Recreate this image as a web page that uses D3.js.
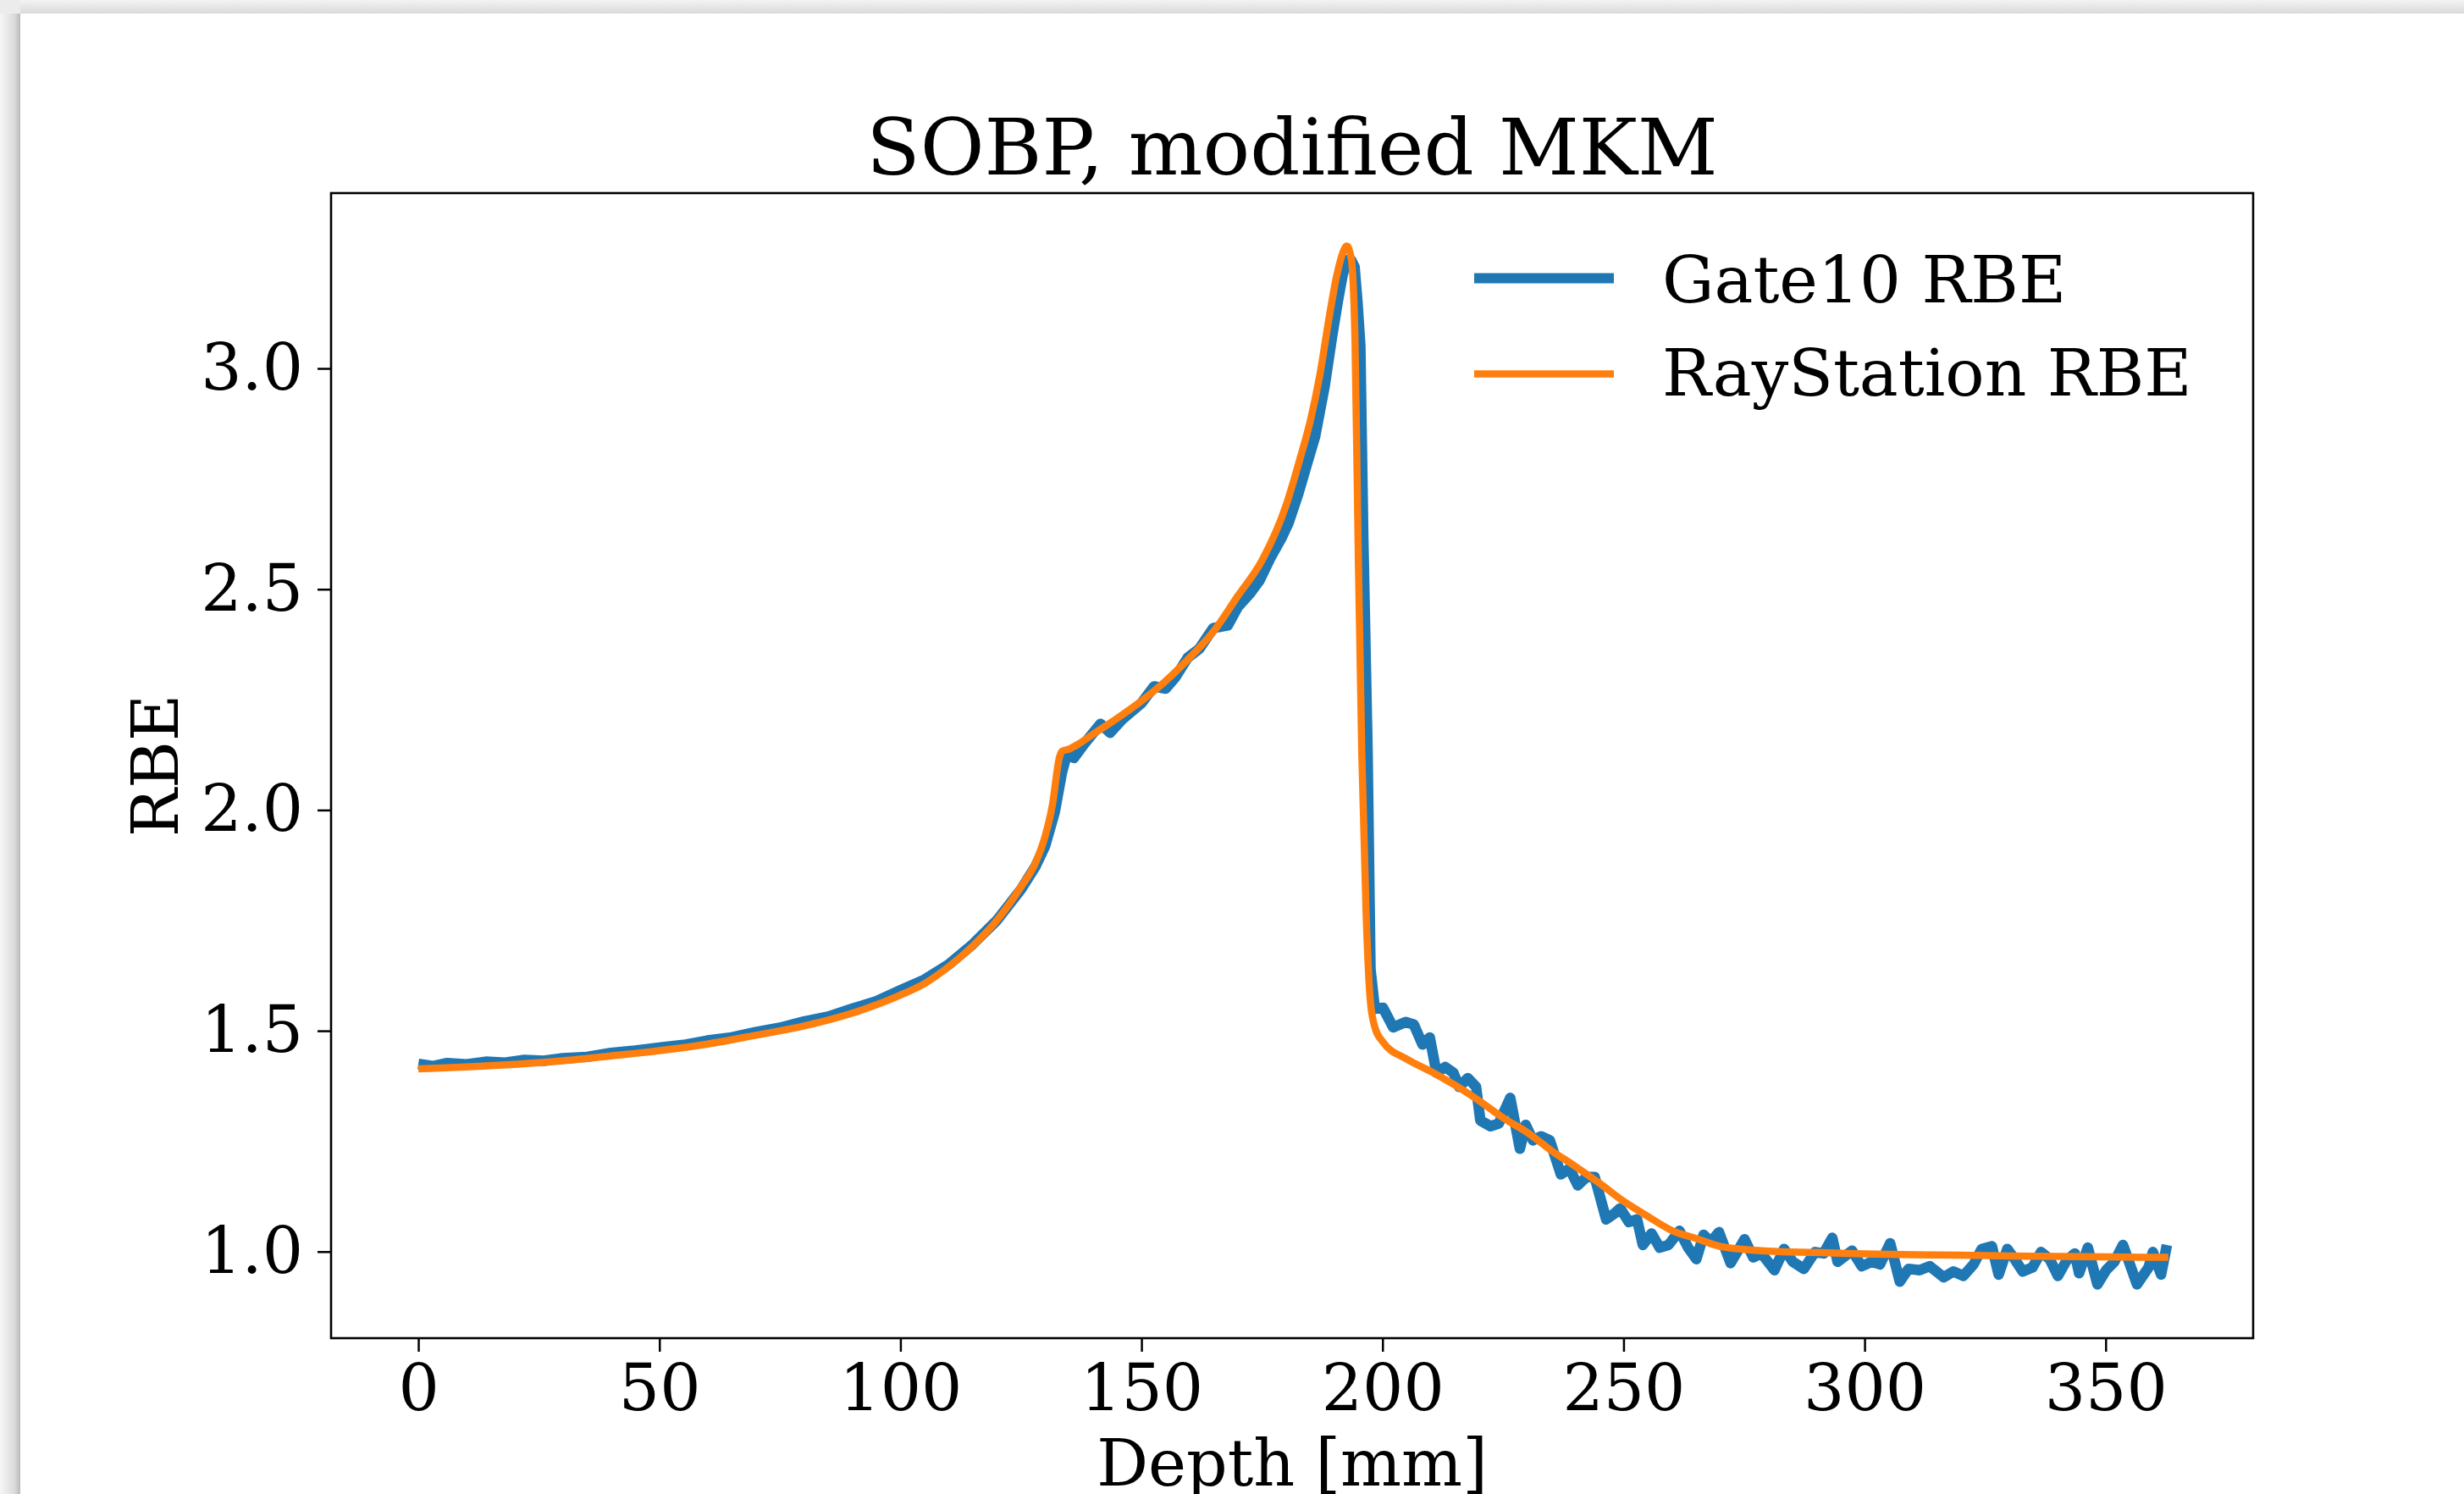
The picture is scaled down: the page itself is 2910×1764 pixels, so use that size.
<!DOCTYPE html>
<html>
<head>
<meta charset="utf-8">
<script src="https://cdn.jsdelivr.net/npm/d3@7"></script>
<style>
  body { margin: 0; background: #fff; }
  svg { display: block; }
</style>
</head>
<body>
<svg id="chart" width="2910" height="1764"></svg>
<script>
// RayStation RBE (smooth)
const rsDepth = [0, 10, 20, 30, 40, 50, 60, 70, 80, 90, 100, 105, 110, 115, 120, 125, 128, 130, 131.5, 133,
  133.5, 135, 137, 140, 145, 150, 155, 160, 165, 170, 175, 180, 183, 185, 187, 189, 190.5, 191.7, 192.6,
  193.5, 194.3, 195, 195.7, 196.6, 197.5, 198.5, 200, 205, 210, 215, 220, 225, 230, 235, 240, 245, 250,
  255, 260, 265, 270, 275, 280, 290, 300, 310, 320, 330, 340, 350, 363];
const rsRbe = [1.414, 1.418, 1.424, 1.432, 1.443, 1.455, 1.470, 1.490, 1.511, 1.540, 1.581, 1.607, 1.645, 1.692, 1.750, 1.826, 1.880, 1.940, 2.010, 2.120,
  2.133, 2.138, 2.150, 2.172, 2.208, 2.247, 2.292, 2.345, 2.405, 2.485, 2.565, 2.690, 2.800, 2.880, 2.985, 3.120, 3.210, 3.260, 3.277,
  3.250, 3.060, 2.560, 2.130, 1.765, 1.565, 1.505, 1.476, 1.436, 1.408, 1.377, 1.342, 1.303, 1.270, 1.229, 1.193, 1.155, 1.114,
  1.080, 1.048, 1.030, 1.012, 1.005, 1.001, 0.998, 0.995, 0.993, 0.992, 0.990, 0.989, 0.988, 0.987];

// Gate10 RBE (Monte Carlo, noisy)
const gateDepth = [0, 3, 6, 10, 14, 18, 22, 26, 30, 35, 40, 45, 50, 55, 60, 65, 70, 75, 80, 85, 90, 95, 100, 105, 110, 115,
  120, 125, 128, 130, 132, 133.5, 134.5, 136, 138, 141.5, 143.5, 146, 150, 152.6, 155, 157, 159.6, 162, 164.9, 167.9,
  170, 172.5, 174.5, 176.7, 179, 180.5, 182.5, 184.5, 186, 188, 189.5, 190.7, 191.7, 192.5, 193.5, 194.2, 194.8, 195.4,
  196, 196.9, 197.5, 198.4, 200.1, 202.2, 204.8, 206.5, 208.3, 209.8, 211.2, 213, 214.7, 215.9, 217.7, 219.4, 220.3,
  222.4, 224.1, 226.5, 228.5, 229.7, 231.2, 232.9, 234.7, 237, 238.8, 240.5, 242.3, 244, 246.4, 248.1, 249.3, 251.1,
  252.8, 254, 255.8, 257.5, 259.3, 261.6, 263.4, 265.1, 266.6, 268.1, 269.8, 272.2, 273.4, 275.1, 276.9, 278.6, 281.3,
  283.3, 285.1, 287.4, 289.7, 291.5, 293.3, 294.4, 297.4, 299.4, 301.5, 303.2, 305.3, 307.3, 309.1, 311.4, 313.5, 316.4,
  318.4, 320.5, 322.6, 324.3, 326.4, 327.8, 329.6, 331.3, 332.8, 334.8, 336.6, 338.4, 340.1, 341.9, 343.6, 344.5, 346.3,
  348.3, 350.1, 351.8, 353.6, 356.5, 358.9, 359.8, 361.5, 362.7];
const gateRbe = [1.425, 1.420, 1.427, 1.424, 1.430, 1.428, 1.434, 1.432, 1.438, 1.441, 1.450, 1.455, 1.462, 1.468, 1.478, 1.485, 1.497, 1.507, 1.521, 1.532, 1.550, 1.567, 1.592, 1.616, 1.650, 1.696,
  1.750, 1.820, 1.872, 1.918, 1.995, 2.085, 2.125, 2.118, 2.148, 2.195, 2.175, 2.205, 2.242, 2.280, 2.275, 2.300, 2.345, 2.365, 2.412, 2.418,
  2.460, 2.490, 2.520, 2.570, 2.615, 2.650, 2.715, 2.790, 2.845, 2.960, 3.070, 3.150, 3.210, 3.245, 3.245, 3.230, 3.150, 3.050,
  2.620, 2.130, 1.640, 1.550, 1.552, 1.508, 1.520, 1.514, 1.469, 1.485, 1.405, 1.418, 1.405, 1.373, 1.393, 1.373, 1.297,
  1.284, 1.290, 1.348, 1.233, 1.287, 1.252, 1.261, 1.252, 1.175, 1.188, 1.150, 1.169, 1.169, 1.073, 1.086, 1.098, 1.067,
  1.073, 1.015, 1.041, 1.009, 1.015, 1.047, 1.009, 0.983, 1.038, 1.022, 1.044, 0.974, 0.996, 1.028, 0.987, 0.996, 0.958,
  1.006, 0.977, 0.961, 0.999, 0.996, 1.031, 0.977, 1.002, 0.967, 0.977, 0.971, 1.019, 0.932, 0.961, 0.958, 0.967, 0.942,
  0.955, 0.945, 0.971, 1.006, 1.012, 0.948, 1.006, 0.980, 0.955, 0.964, 0.999, 0.983, 0.945, 0.980, 0.996, 0.951, 1.009,
  0.926, 0.958, 0.977, 1.015, 0.926, 0.964, 0.999, 0.948, 1.015];

const xTicks = [0, 50, 100, 150, 200, 250, 300, 350];
const yTicks = [1.0, 1.5, 2.0, 2.5, 3.0];
const seriesNames = ["Gate10 RBE", "RayStation RBE"];
const colors = ["#1f77b4", "#ff7f0e"];

const svg = d3.select("#chart");
const font = "'DejaVu Serif', serif";

// window shadow of the screenshot
const defs = svg.append("defs");
const gTop = defs.append("linearGradient").attr("id", "shTop").attr("x1", 0).attr("y1", 0).attr("x2", 0).attr("y2", 1);
gTop.append("stop").attr("offset", "0%").attr("stop-color", "#f3f3f3");
gTop.append("stop").attr("offset", "100%").attr("stop-color", "#dadada");
const gLeft = defs.append("linearGradient").attr("id", "shLeft").attr("x1", 0).attr("y1", 0).attr("x2", 1).attr("y2", 0);
gLeft.append("stop").attr("offset", "0%").attr("stop-color", "#f6f6f6");
gLeft.append("stop").attr("offset", "70%").attr("stop-color", "#dcdcdc");
gLeft.append("stop").attr("offset", "100%").attr("stop-color", "#b9b9b9");
svg.append("rect").attr("x", 0).attr("y", 0).attr("width", 2910).attr("height", 16).attr("fill", "url(#shTop)");
svg.append("rect").attr("x", 0).attr("y", 16).attr("width", 24).attr("height", 1748).attr("fill", "url(#shLeft)");
svg.append("rect").attr("x", 0).attr("y", 0).attr("width", 24).attr("height", 16).attr("fill", "#ececec");

const plot = { left: 391, right: 2661, top: 228, bottom: 1580 };

const x = d3.scaleLinear().domain([-18.1, 380.6]).range([plot.left, plot.right]);
const y = d3.scaleLinear().domain([0.804, 3.397]).range([plot.bottom, plot.top]);

// axes
const xAxis = svg.append("g")
  .attr("transform", `translate(0,${plot.bottom})`)
  .call(d3.axisBottom(x).tickValues(xTicks).tickSize(16).tickPadding(15).tickFormat(d3.format("d")));
const yAxis = svg.append("g")
  .attr("transform", `translate(${plot.left},0)`)
  .call(d3.axisLeft(y).tickValues(yTicks).tickSize(16).tickPadding(17).tickFormat(d3.format(".1f")));

[xAxis, yAxis].forEach(a => {
  a.select(".domain").remove();
  a.selectAll(".tick line").attr("stroke", "#000").attr("stroke-width", 2.5);
  a.selectAll(".tick text").attr("fill", "#000").style("font-family", font).style("font-size", "76px");
});

// lines
const line = d3.line().x(d => x(d[0])).y(d => y(d[1]));
const gateData = gateDepth.map((d, i) => [d, gateRbe[i]]);
const rsData = rsDepth.map((d, i) => [d, rsRbe[i]]);

svg.append("path")
  .datum(gateData)
  .attr("d", line.curve(d3.curveLinear))
  .attr("fill", "none")
  .attr("stroke", colors[0])
  .attr("stroke-width", 12.5)
  .attr("stroke-linejoin", "round");

svg.append("path")
  .datum(rsData)
  .attr("d", line.curve(d3.curveMonotoneX))
  .attr("fill", "none")
  .attr("stroke", colors[1])
  .attr("stroke-width", 8.5)
  .attr("stroke-linejoin", "round");

// frame
svg.append("rect")
  .attr("x", plot.left).attr("y", plot.top)
  .attr("width", plot.right - plot.left).attr("height", plot.bottom - plot.top)
  .attr("fill", "none").attr("stroke", "#000").attr("stroke-width", 2.6);

// title and labels
svg.append("text")
  .attr("x", (plot.left + plot.right) / 2).attr("y", 206)
  .attr("text-anchor", "middle")
  .style("font-family", font).style("font-size", "92.5px")
  .text("SOBP, modified MKM");

svg.append("text")
  .attr("x", (plot.left + plot.right) / 2).attr("y", 1754)
  .attr("text-anchor", "middle")
  .style("font-family", font).style("font-size", "76px")
  .text("Depth [mm]");

svg.append("text")
  .attr("transform", `translate(210,${(plot.top + plot.bottom) / 2}) rotate(-90)`)
  .attr("text-anchor", "middle")
  .style("font-family", font).style("font-size", "76px")
  .text("RBE");

// legend
const legendY = [328.5, 441.5];
const legendBase = [356.5, 467];
const legend = svg.append("g");
seriesNames.forEach((name, i) => {
  legend.append("line")
    .attr("x1", 1741).attr("x2", 1906)
    .attr("y1", legendY[i]).attr("y2", legendY[i])
    .attr("stroke", colors[i])
    .attr("stroke-width", i === 0 ? 12 : 8.5);
  legend.append("text")
    .attr("x", 1963).attr("y", legendBase[i])
    .style("font-family", font).style("font-size", "77px")
    .text(name);
});
</script>
</body>
</html>
